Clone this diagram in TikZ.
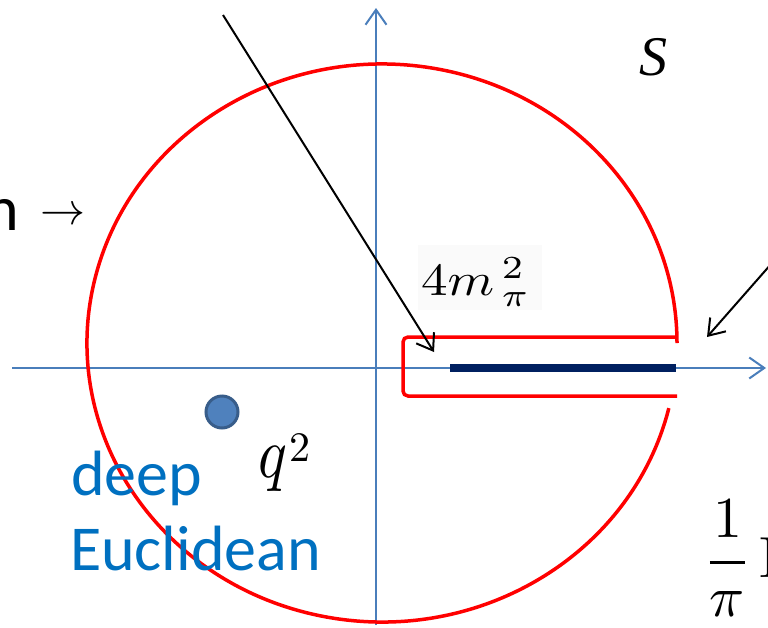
\RequirePackage{fix-cm}
\documentclass[tikz,border=0pt]{standalone}
\usepackage{fontspec}
\usetikzlibrary{arrows.meta}
\newfontfamily\calfont{Carlito}
\newfontfamily\timesit{Liberation Serif Italic}
\definecolor{axisblue}{HTML}{4A7EBB}
\definecolor{dotfill}{HTML}{4F81BD}
\definecolor{dotedge}{HTML}{385D8A}
\definecolor{textblue}{HTML}{0070C0}
\definecolor{cutnavy}{HTML}{002060}
\definecolor{labelbg}{HTML}{FAFAFA}
\tikzset{
  axisline/.style={draw=axisblue, line width=2pt, -{Straight Barb[length=15pt,width=21pt]}},
  contour/.style={draw=red, line width=3.5pt},
  cutline/.style={draw=cutnavy, line width=8pt},
  pointer/.style={draw=black, line width=2pt, -{Straight Barb[length=15pt,width=21pt]}},
  txt/.style={anchor=base west, inner sep=0pt, outer sep=0pt},
}
\begin{document}
\begin{tikzpicture}[x=1pt,y=-1pt]
\useasboundingbox (0,0) rectangle (768,627);
\clip (0,0) rectangle (768,627);
% faint label background
\fill[labelbg] (418,245) rectangle (542,310);
% axes
\coordinate (xa) at (12,368);
\coordinate (xb) at (766,368);
\coordinate (ya) at (376,625);
\coordinate (yb) at (376,8);
\draw[axisline] (xa) -- (xb);
\draw[axisline] (ya) -- (yb);
% contour
\coordinate (ctr) at (382,343);
\draw[contour] (ctr) ++(13.5:295 and 279) arc[start angle=13.5, end angle=360, x radius=295, y radius=279];
\coordinate (k1) at (677,337);
\coordinate (k2) at (403,337);
\coordinate (k3) at (403,396);
\coordinate (k4) at (677,396);
\draw[contour, rounded corners=5pt] (k1) -- (k2) -- (k3) -- (k4);
% cut
\coordinate (c1) at (450,368);
\coordinate (c2) at (676,368);
\draw[cutline] (c1) -- (c2);
% pointers
\coordinate (p1s) at (223,15);
\coordinate (p1e) at (434,352);
\coordinate (p2s) at (772,263);
\coordinate (p2e) at (707,337);
\draw[pointer] (p1s) -- (p1e);
\draw[pointer] (p2s) -- (p2e);
% point q^2
\node[circle, fill=dotfill, draw=dotedge, line width=3pt, minimum size=32pt, inner sep=0pt] (dot) at (222,412) {};
% texts
\node[txt, font=\calfont\fontsize{64}{64}\selectfont] (ntext) at (-14,230) {n};
\node[txt] (narrow) at (40,224) {\scalebox{4.5}{$\rightarrow$}};
\node[txt, font=\timesit\fontsize{56}{56}\selectfont] (s) at (639,75) {S};
\node[txt] (fourm) at (421,295) {\scalebox{5.3}[4.6]{$4m_{\kern1.5pt\pi}^{\kern1.5pt 2}$}};
\node[txt] (q2) at (258,477) {\scalebox{6}[7.2]{$q$}\kern3pt\raisebox{16pt}{\scalebox{4.2}{2}}};
\node[txt, font=\calfont\fontsize{64}{64}\selectfont, text=textblue] (deep) at (71,495) {deep};
\node[txt, font=\calfont\fontsize{64}{64}\selectfont, text=textblue] (eucl) at (70,570) {Euclidean};
\node[txt] (frac) at (703,577) {\scalebox{5.8}{$\displaystyle\frac{1}{\pi}\kern1.2pt\mathrm{I}$}};
\end{tikzpicture}
\end{document}
